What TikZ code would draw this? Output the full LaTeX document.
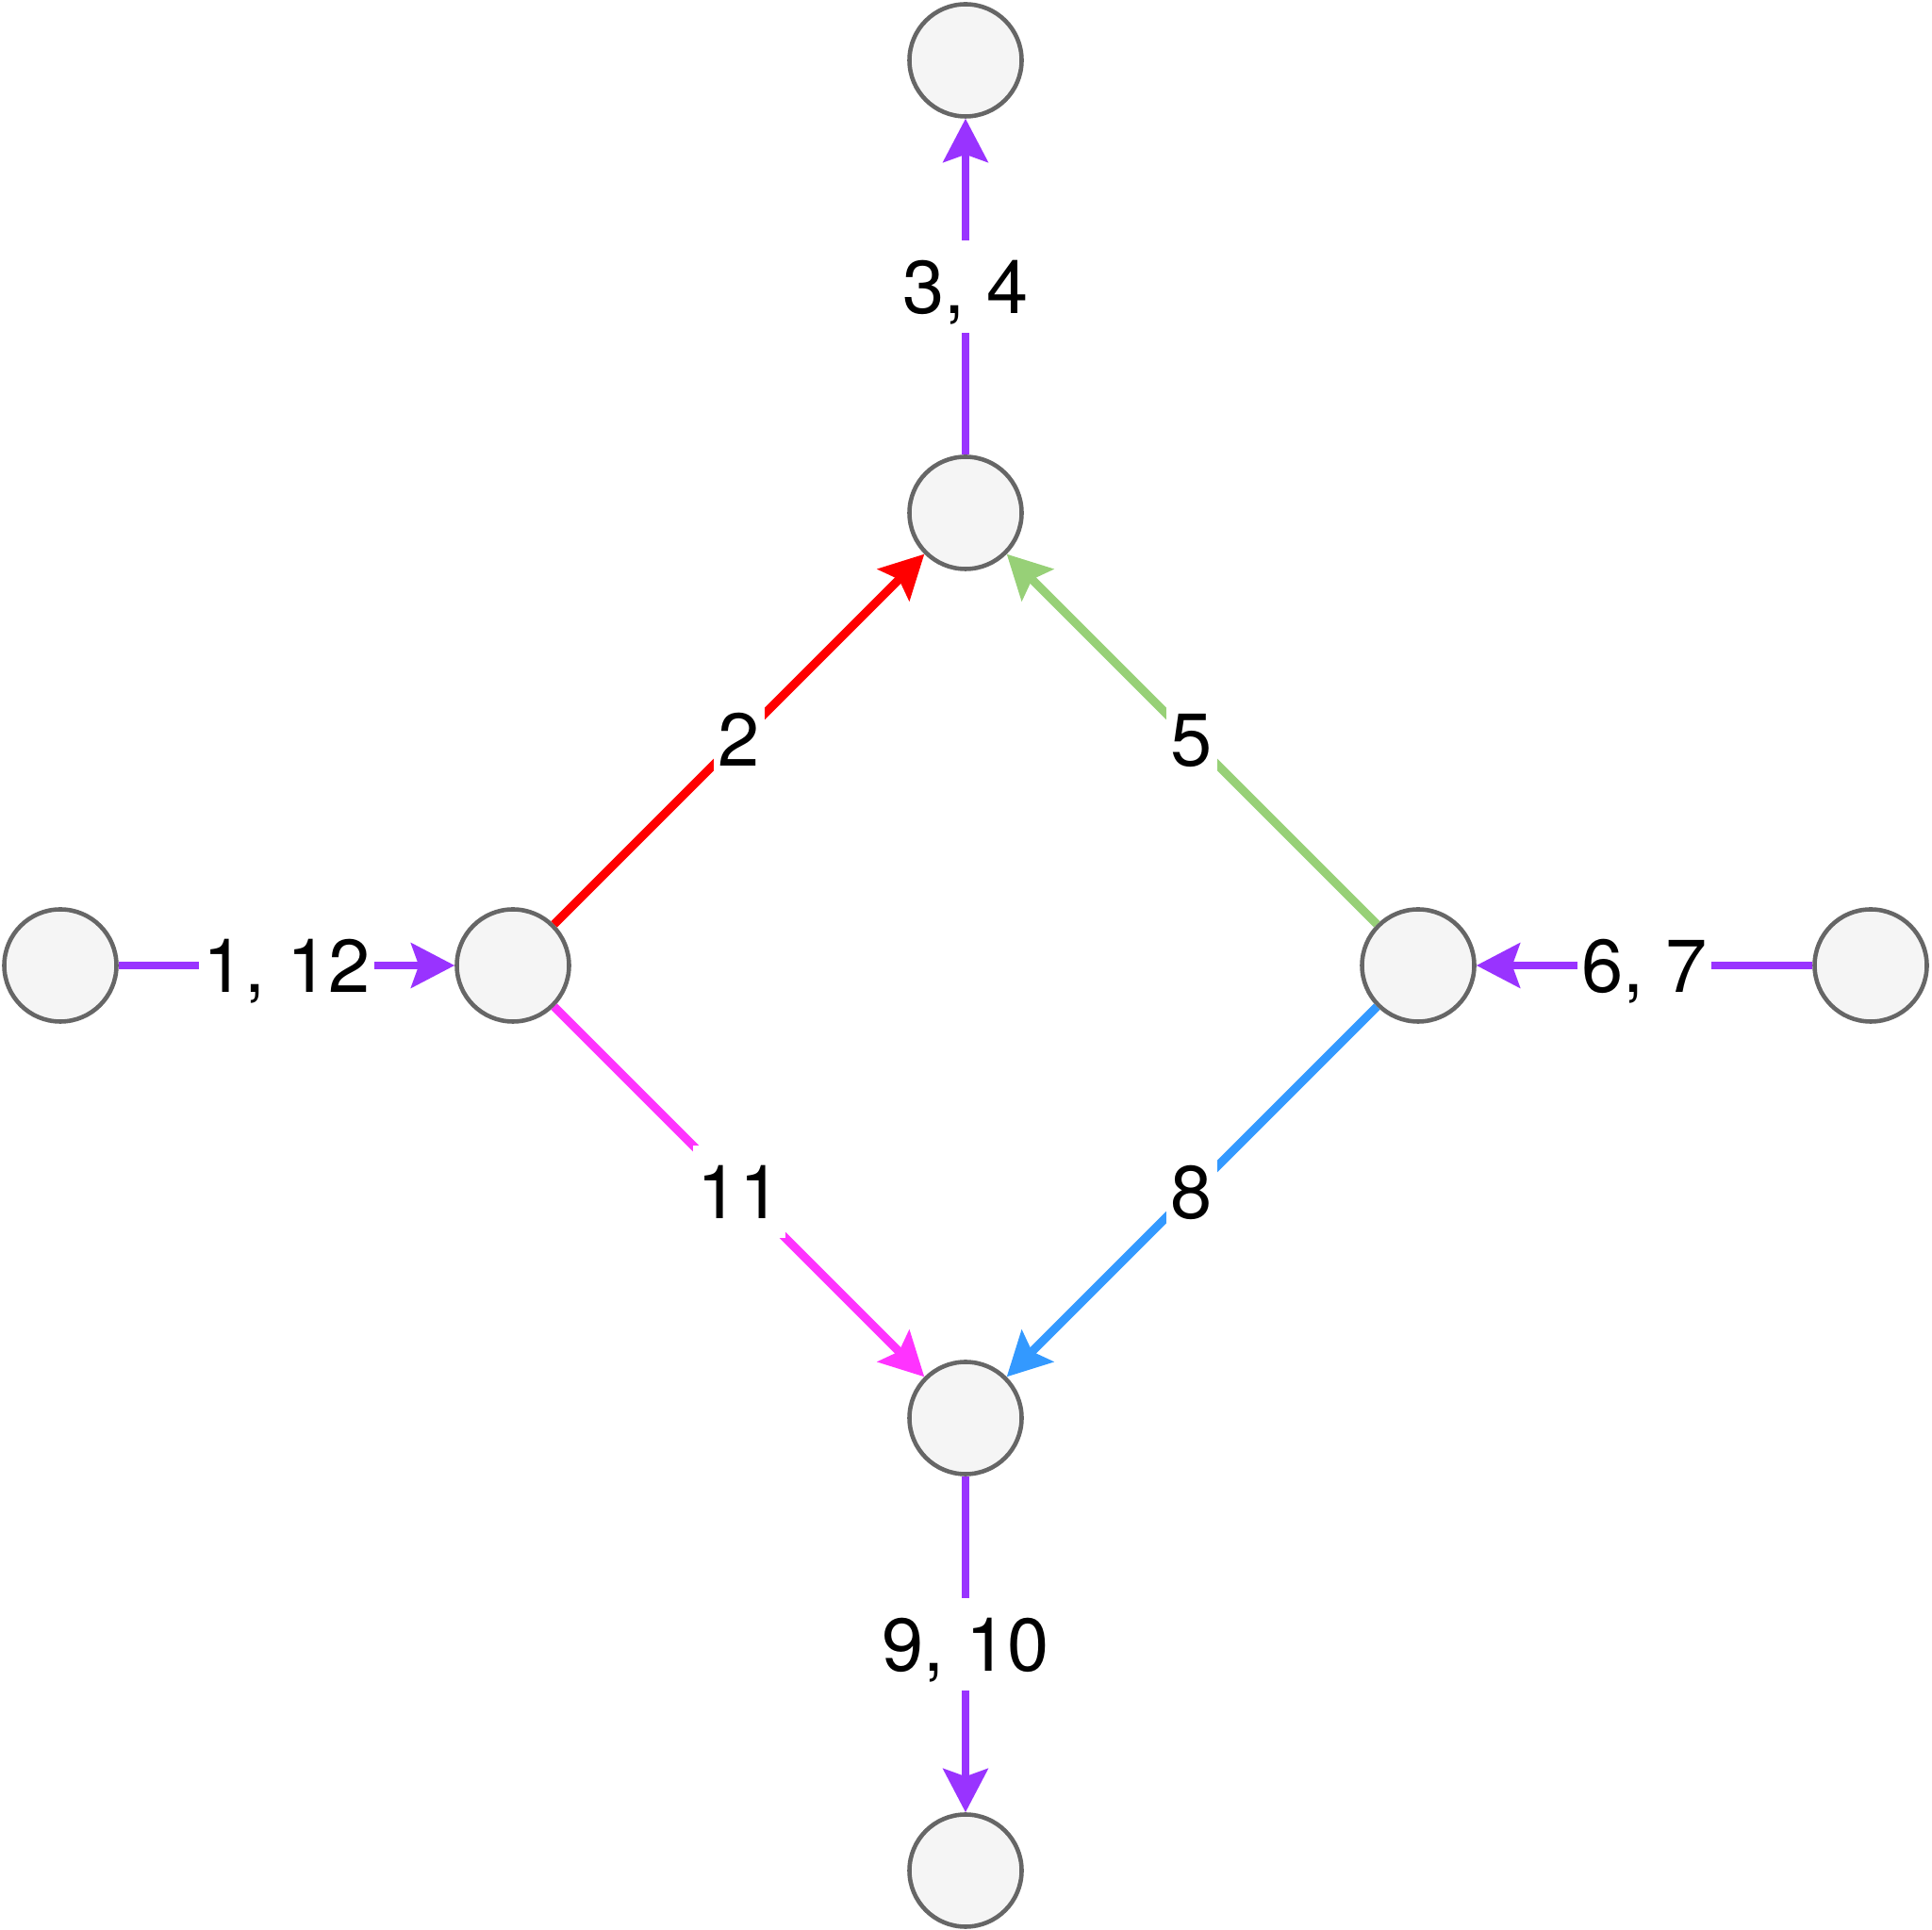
\documentclass[tikz,border=0pt]{standalone}
\usepackage{fontspec}
\setmainfont{TeX Gyre Heros}
\usepackage{xcolor}
\usetikzlibrary{positioning, arrows.meta}

\definecolor{nodefill}{HTML}{F5F5F5}
\definecolor{nodeline}{HTML}{666666}
\definecolor{flowpurple}{HTML}{9933FF}
\definecolor{flowred}{HTML}{FF0000}
\definecolor{flowgreen}{HTML}{97D077}
\definecolor{flowblue}{HTML}{3399FF}
\definecolor{flowpink}{HTML}{FF33FF}

\begin{document}
\begin{tikzpicture}[node distance=4.8cm, on grid,
    every node/.style={circle, draw=nodeline, fill=nodefill, line width=1.3pt, minimum size=1.19cm, inner sep=0pt},
    lbl/.style={rectangle, draw=none, fill=white, text=black, minimum size=0pt, inner sep=0.05cm,
        text height=0.73cm, text depth=0.15cm, font=\fontsize{22.6}{27}\selectfont},
    flow/.style={line width=2.55pt, -{Stealth[length=0.46cm, width=0.47cm, inset=0.08cm]}}]
    \useasboundingbox (0,0) rectangle (20.49,20.46);
    \node (l1) at (5.44,10.22) {};
    \node (l2) [left=of l1] {};
    \node (t1) [above right=4.8cm and 4.8cm of l1] {};
    \node (t2) [above=of t1] {};
    \node (b1) [below right=4.8cm and 4.8cm of l1] {};
    \node (b2) [below=of b1] {};
    \node (r1) [below right=4.8cm and 4.8cm of t1] {};
    \node (r2) [right=of r1] {};

    \draw[flow, flowpurple] (l2) -- node[lbl] {1, 12} (l1);
    \draw[flow, flowred] (l1) -- node[lbl] {2} (t1);
    \draw[flow, flowpurple] (t1) -- node[lbl] {3, 4} (t2);
    \draw[flow, flowgreen] (r1) -- node[lbl] {5} (t1);
    \draw[flow, flowpurple] (r2) -- node[lbl] {6, 7} (r1);
    \draw[flow, flowblue] (r1) -- node[lbl] {8} (b1);
    \draw[flow, flowpurple] (b1) -- node[lbl] {9, 10} (b2);
    \draw[flow, flowpink] (l1) -- node[lbl] {11} (b1);
\end{tikzpicture}
\end{document}
